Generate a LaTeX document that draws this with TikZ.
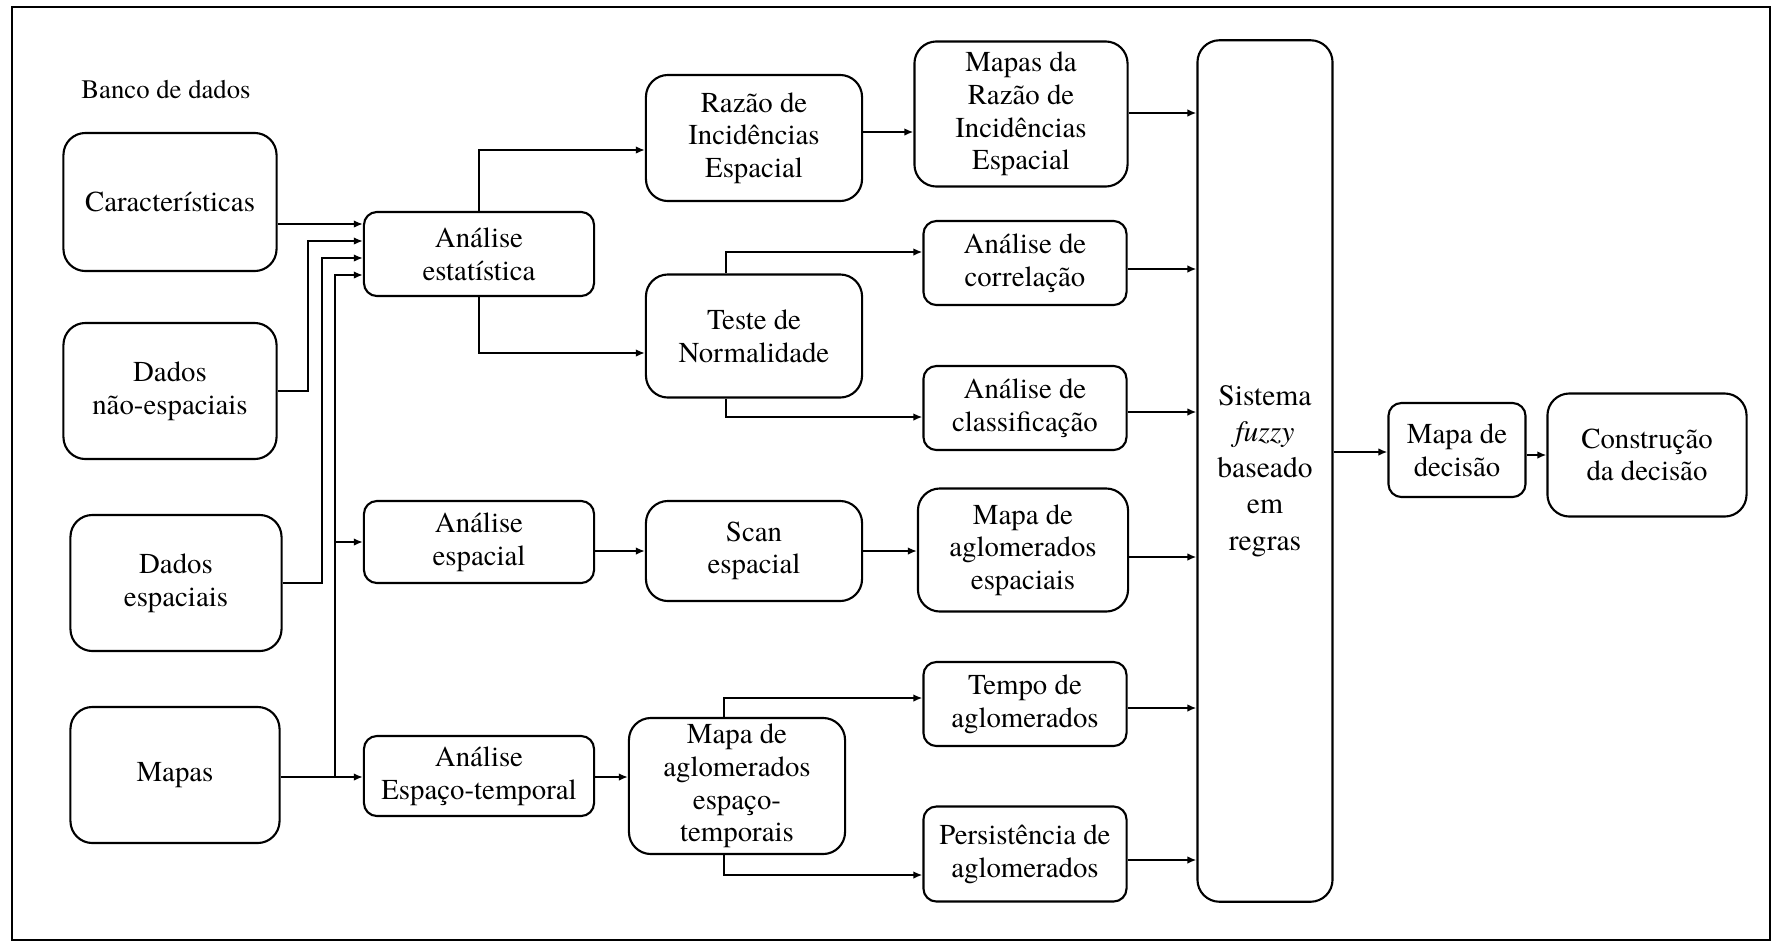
\documentclass[tikz,border=0pt]{standalone}
\usepackage{fontspec}
\setmainfont{texgyretermes}[Extension=.otf, UprightFont=*-regular, ItalicFont=*-italic, BoldFont=*-bold]
\usepackage{tikz}
\usetikzlibrary{arrows.meta}

\begin{document}
\begin{tikzpicture}[x=0.01cm, y=-0.01cm,
    box/.style={draw, line width=0.6pt, rounded corners=0.22cm, align=center,
      inner sep=0pt, font={\fontsize{8.2}{9.3}\selectfont}},
    smallbox/.style={box, rounded corners=0.13cm},
    arr/.style={-{Latex[length=0.9mm,width=0.75mm]}, line width=0.5pt}]

  \useasboundingbox (0,0) rectangle (1772,942);
  \draw[line width=0.8pt] (12,7) rectangle (1770,940);

  %--- Banco de dados ---
  \node[font={\fontsize{7.6}{9}\selectfont}] (banco) at (166,90) {Banco de dados};
  \node[box, minimum width=2.13cm, minimum height=1.38cm] (carac)  at (170,202) {Características};
  \node[box, minimum width=2.13cm, minimum height=1.36cm] (naoesp) at (170,391) {Dados\\não-espaciais};
  \node[box, minimum width=2.11cm, minimum height=1.36cm] (esp)    at (176,583) {Dados\\espaciais};
  \node[box, minimum width=2.09cm, minimum height=1.36cm] (mapas)  at (175,775) {Mapas};

  %--- Analises ---
  \node[smallbox, minimum width=2.30cm, minimum height=0.84cm] (aest) at (479,254) {Análise\\estatística};
  \node[smallbox, minimum width=2.30cm, minimum height=0.82cm] (aesp) at (479,542) {Análise\\espacial};
  \node[smallbox, minimum width=2.30cm, minimum height=0.80cm] (aet)  at (479,776) {Análise\\Espaço-temporal};

  %--- segunda coluna ---
  \node[box, minimum width=2.16cm, minimum height=1.26cm] (razao) at (754,138) {Razão de\\Incidências\\Espacial};
  \node[box, minimum width=2.16cm, minimum height=1.23cm] (teste) at (754,336) {Teste de\\Normalidade};
  \node[box, minimum width=2.16cm, minimum height=1.00cm] (scan)  at (754,551) {Scan\\espacial};
  \node[box, minimum width=2.16cm, minimum height=1.36cm] (maet)  at (737,786) {Mapa de\\aglomerados\\espaço-\\temporais};

  %--- terceira coluna ---
  \node[box, minimum width=2.13cm, minimum height=1.45cm] (mrazao)  at (1021,114) {Mapas da\\Razão de\\Incidências\\Espacial};
  \node[smallbox, minimum width=2.03cm, minimum height=0.84cm] (corr)    at (1025,263) {Análise de\\correlação};
  \node[smallbox, minimum width=2.03cm, minimum height=0.84cm] (class)   at (1025,408) {Análise de\\classificação};
  \node[box, minimum width=2.10cm, minimum height=1.23cm] (mae)          at (1023,550) {Mapa de\\aglomerados\\espaciais};
  \node[smallbox, minimum width=2.03cm, minimum height=0.84cm] (tempo)   at (1025,704) {Tempo de\\aglomerados};
  \node[smallbox, minimum width=2.03cm, minimum height=0.95cm] (persist) at (1025,854) {Persistência de\\aglomerados};

  %--- sistema e decisao ---
  \node[box, minimum width=1.35cm, minimum height=8.61cm,
        font={\fontsize{8.4}{10.3}\selectfont}] (sistema) at (1265,471) {Sistema\\\textit{fuzzy}\\baseado\\em\\regras};
  \node[smallbox, minimum width=1.37cm, minimum height=0.94cm] (mdec)  at (1457,450) {Mapa de\\decisão};
  \node[box, minimum width=1.99cm, minimum height=1.23cm] (constr)     at (1647,455) {Construção\\da decisão};

  %--- entradas da analise estatistica ---
  \coordinate (in1) at (aest.west |- 0,224);
  \coordinate (in2) at (aest.west |- 0,241);
  \coordinate (in3) at (aest.west |- 0,258);
  \coordinate (in4) at (aest.west |- 0,275);
  \coordinate (bus) at (335,777);

  \draw[arr] (carac.east |- in1) -- (in1);
  \draw[arr] (naoesp.east) -| (308,241) -- (in2);
  \draw[arr] (esp.east) -| (322,258) -- (in3);
  \draw[arr] (mapas.east |- bus) -- (aet.west |- bus);
  \draw[arr] (bus) |- (in4);
  \draw[arr] (bus |- aesp.west) -- (aesp.west);

  %--- ramos ---
  \draw[arr] (aest.north) |- (razao.west |- 0,150);
  \draw[arr] (aest.south) |- (teste.west |- 0,353);
  \draw[arr] (razao.east |- 0,132) -- (mrazao.west |- 0,132);
  \draw[arr] (teste.north -| 726,0) |- (corr.west |- 0,252);
  \draw[arr] (teste.south -| 726,0) |- (class.west |- 0,417);
  \draw[arr] (aesp.east |- scan.west) -- (scan.west);
  \draw[arr] (scan.east) -- (mae.west |- scan.east);
  \draw[arr] (aet.east |- bus) -- (maet.west |- bus);
  \draw[arr] (maet.north -| 724,0) |- (tempo.west |- 0,698);
  \draw[arr] (maet.south -| 724,0) |- (persist.west |- 0,875);

  %--- para o sistema fuzzy ---
  \foreach \src/\yy in {mrazao/113, corr/269, class/412, mae/557, tempo/708, persist/860}
    \draw[arr] (\src.east |- 0,\yy) -- (sistema.west |- 0,\yy);

  \draw[arr] (sistema.east |- 0,452) -- (mdec.west |- 0,452);
  \draw[arr] (mdec.east |- 0,455) -- (constr.west |- 0,455);

\end{tikzpicture}
\end{document}
